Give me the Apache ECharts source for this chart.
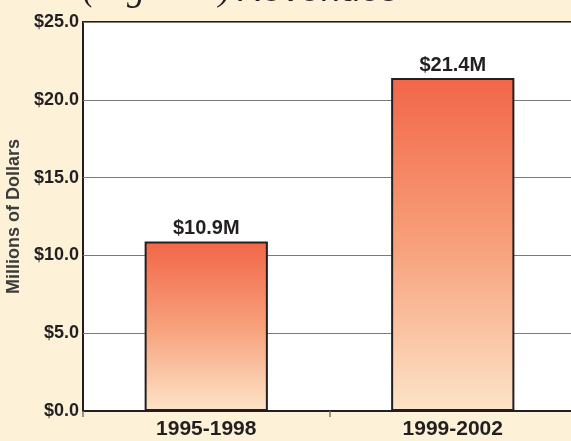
<!DOCTYPE html>
<html>
<head>
<meta charset="utf-8">
<title>Revenues</title>
<script src="https://cdn.jsdelivr.net/npm/echarts@6/dist/echarts.min.js"></script>
<style>
  html, body { margin: 0; padding: 0; background: #fdf1d8; }
  #main { width: 571px; height: 441px; }
</style>
</head>
<body>
<div id="main"></div>
<script>
// data
var periods = ['1995-1998', '1999-2002'];
var revenues = [10.9, 21.4];
var barLabels = ['$10.9M', '$21.4M'];

var chart = echarts.init(document.getElementById('main'));

var option = {
    backgroundColor: '#fdf1d8',
    animation: false,
    title: {
        text: '{fig|(Figure 8)} {rev|Revenues}',
        left: 78,
        top: -32,
        textStyle: {
            fontWeight: 'normal',
            rich: {
                fig: { fontFamily: 'Liberation Serif', fontStyle: 'italic', fontWeight: 'normal', fontSize: 36, color: '#231f20' },
                rev: { fontFamily: 'Liberation Sans', fontWeight: 'normal', fontSize: 36, color: '#231f20' }
            }
        }
    },
    grid: {
        left: 83,
        top: 22,
        bottom: 30,
        right: -5,
        containLabel: false,
        outerBoundsMode: 'none',
        show: true,
        backgroundColor: '#ffffff',
        borderColor: '#231f20',
        borderWidth: 2
    },
    xAxis: {
        type: 'category',
        data: periods,
        axisLine: { show: true, lineStyle: { color: '#231f20', width: 2 } },
        axisTick: { show: true, length: 6, lineStyle: { color: '#777', width: 1.5 } },
        axisLabel: {
            margin: 8,
            fontFamily: 'Liberation Sans',
            fontWeight: 'bold',
            fontSize: 21,
            color: '#231f20'
        }
    },
    yAxis: {
        type: 'value',
        min: 0,
        max: 25,
        interval: 5,
        name: 'Millions of Dollars',
        nameLocation: 'middle',
        nameGap: 58,
        nameTextStyle: {
            fontFamily: 'Liberation Sans',
            fontWeight: 'bold',
            fontSize: 18,
            color: '#3c3c3c'
        },
        axisLine: { show: false },
        axisTick: { show: false },
        axisLabel: {
            margin: 4,
            fontFamily: 'Liberation Sans',
            fontWeight: 'bold',
            fontSize: 18,
            color: '#231f20',
            formatter: function (v) { return '$' + v.toFixed(1); }
        },
        splitLine: { lineStyle: { color: '#7a7a7a', width: 1 } }
    },
    series: [{
        type: 'bar',
        data: revenues,
        barWidth: '50%',
        itemStyle: {
            color: new echarts.graphic.LinearGradient(0, 0, 0, 1, [
                { offset: 0, color: '#f26649' },
                { offset: 0.5, color: '#f7a07a' },
                { offset: 1, color: '#fde4c8' }
            ]),
            borderColor: '#231f20',
            borderWidth: 2
        },
        label: {
            show: true,
            position: 'top',
            distance: 3,
            fontFamily: 'Liberation Sans',
            fontWeight: 'bold',
            fontSize: 20,
            color: '#231f20',
            formatter: function (p) { return barLabels[p.dataIndex]; }
        }
    }]
};

chart.setOption(option);
</script>
</body>
</html>
